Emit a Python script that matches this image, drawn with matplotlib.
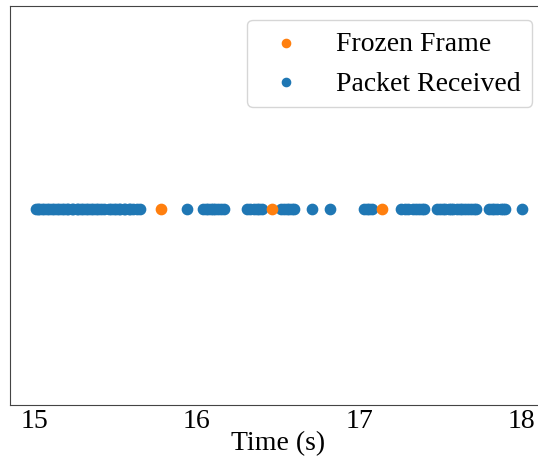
import numpy as np
import matplotlib
matplotlib.use("Agg")
import matplotlib.pyplot as plt

plt.rcParams['font.family'] = ['Liberation Serif', 'DejaVu Serif']

# packet arrival times (s) and frozen frame times (s)
packet_times = [
    15.01, 15.02, 15.03, 15.05, 15.06, 15.08, 15.09, 15.11, 15.12, 15.14,
    15.15, 15.17, 15.18, 15.20, 15.21, 15.23, 15.24, 15.26, 15.27, 15.29,
    15.30, 15.32, 15.33, 15.35, 15.36, 15.38, 15.39, 15.41, 15.43,
    15.46, 15.47, 15.49, 15.50, 15.52, 15.53, 15.55, 15.56, 15.58, 15.59,
    15.61, 15.63, 15.65,
    15.94,
    16.04, 16.055, 16.07, 16.085, 16.10, 16.115, 16.13, 16.15, 16.17,
    16.31, 16.33, 16.35, 16.37, 16.385, 16.40,
    16.52, 16.54, 16.555, 16.57, 16.585, 16.60,
    16.71, 16.82,
    17.03, 17.045, 17.06, 17.08,
    17.26, 17.28, 17.30, 17.33, 17.35, 17.37, 17.385, 17.40,
    17.48, 17.50, 17.515, 17.53, 17.55, 17.565, 17.58, 17.60, 17.62,
    17.635, 17.65, 17.67, 17.69, 17.705, 17.72,
    17.80, 17.815, 17.83, 17.85, 17.87, 17.885, 17.90,
    18.00,
]
frozen_times = [15.78, 16.46, 17.14]

fig = plt.figure(figsize=(5.38, 4.60), dpi=100)
# axes runs past the right edge of the canvas
ax = fig.add_axes([10 / 538, 1 - 406 / 460, 536 / 538, 399 / 460])

ax.scatter(frozen_times, np.zeros(len(frozen_times)), s=55, color='#ff7f0e',
           label='Frozen Frame', zorder=3)
ax.scatter(packet_times, np.zeros(len(packet_times)), s=55, color='#1f77b4',
           label='Packet Received', zorder=2)

ax.set_xlim(14.85, 18.15)
ax.set_ylim(-0.054, 0.056)
ax.set_xticks([15, 16, 17, 18])
ax.set_yticks([])
ax.tick_params(axis='x', length=0, labelsize=20, pad=2)
ax.set_xlabel('Time (s)', fontsize=20, labelpad=-2)
for sp in ax.spines.values():
    sp.set_color('#444444')

ax.legend(loc='upper right', fontsize=20, markerscale=0.8)

fig.savefig('out.png', dpi=100)
